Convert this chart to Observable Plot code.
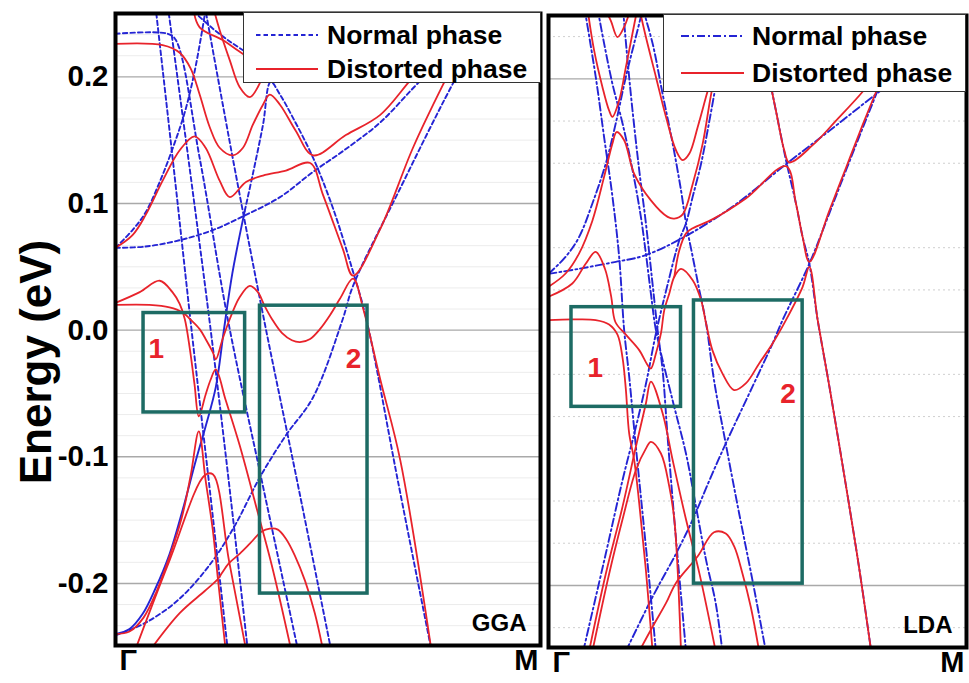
<!DOCTYPE html>
<html><head><meta charset="utf-8">
<script src="https://cdn.jsdelivr.net/npm/d3@7"></script>
<script src="https://cdn.jsdelivr.net/npm/@observablehq/plot@0.6"></script>
<style>
body{margin:0;background:#fff;font-family:"Liberation Sans",Arial,sans-serif;}
#wrap{position:relative;width:969px;height:683px;overflow:hidden;background:#fff;}
.panel{position:absolute;top:0;}
.legend{position:absolute;background:#fff;border:1.5px solid #333;box-sizing:border-box;}
.legend .lt{position:absolute;font-weight:bold;font-size:26.5px;color:#000;line-height:1;white-space:nowrap;transform:translateY(-50%);}
.legend svg{position:absolute;left:0;top:0;}
#ylab{position:absolute;left:36px;top:362px;transform:translate(-50%,-50%) rotate(-90deg);font-weight:bold;font-size:44px;white-space:nowrap;color:#000;line-height:1;}
</style></head>
<body><div id="wrap"><div id="ylab">Energy (eV)</div></div>
<script>
// ---------- data (k along Γ–M, energy in eV) ----------
const kLabels = ["Γ", "M"];
const energyTicks = [-0.2, -0.1, 0.0, 0.1, 0.2];
const ldaSolidTicks = [-0.2, 0.0, 0.2];
const legendLabels = ["Normal phase", "Distorted phase"];
const panelNames = ["GGA", "LDA"];
const boxLabels = ["1", "2"];

// GGA, normal phase (dashed)
const ggaNormal = [
  [[0,-0.241],[0.071,-0.231],[0.151,-0.212],[0.229,-0.182],[0.283,-0.153],[0.340,-0.116],[0.401,-0.083],[0.465,-0.053],[0.535,0.009],[0.559,0.035],[0.670,0.112],[0.771,0.180],[0.858,0.235]],
  [[0,0.065],[0.071,0.066],[0.151,0.071],[0.229,0.079],[0.307,0.091],[0.387,0.105],[0.465,0.125],[0.542,0.143],[0.623,0.164],[0.700,0.191],[0.764,0.213],[0.83,0.24]],
  [[0,0.065],[0.040,0.079],[0.071,0.093],[0.104,0.117],[0.134,0.143],[0.163,0.172],[0.186,0.204],[0.210,0.249],[0.213,0.256]],
  [[0.304,0.094],[0.323,0.123],[0.347,0.162],[0.365,0.196],[0.387,0.186],[0.417,0.168],[0.465,0.136],[0.512,0.096],[0.559,0.046],[0.590,0.009],[0.665,-0.120],[0.743,-0.252]],
  [[0.094,0.256],[0.137,0.128],[0.179,0],[0.222,-0.1265],[0.264,-0.252]],
  [[0.123,0.256],[0.175,0.1265],[0.224,0],[0.269,-0.1265],[0.311,-0.252]],
  [[0,0.234],[0.123,0.234],[0.142,0.229],[0.198,0.136],[0.264,0.009],[0.344,-0.1185],[0.429,-0.252]],
  [[0.210,0.256],[0.278,0.132],[0.349,0.009],[0.427,-0.1185],[0.507,-0.252]],
  [[0.170,0.256],[0.233,0.237],[0.300,0.221],[0.410,0.200]]
];
// GGA, normal phase (solid segment)
const ggaNormalSolid = [
  [[0,-0.240],[0.033,-0.236],[0.064,-0.224],[0.094,-0.204],[0.127,-0.177],[0.158,-0.142],[0.189,-0.103],[0.212,-0.076],[0.236,-0.045],[0.255,0.0],[0.275,0.045],[0.304,0.094]]
];
// GGA, distorted phase
const ggaDistorted = [
  [[0,0.226],[0.111,0.225],[0.151,0.219],[0.177,0.2065],[0.198,0.186],[0.222,0.160],[0.245,0.144],[0.276,0.138],[0.300,0.144],[0.323,0.162],[0.347,0.178],[0.363,0.186],[0.387,0.178],[0.424,0.1575],[0.465,0.138],[0.542,0.154],[0.623,0.170],[0.693,0.197],[0.764,0.224],[0.83,0.255]],
  [[0,0.065],[0.040,0.075],[0.071,0.091],[0.111,0.118],[0.151,0.142],[0.186,0.153],[0.212,0.144],[0.245,0.118],[0.269,0.105],[0.307,0.117],[0.347,0.122],[0.401,0.126],[0.458,0.132],[0.488,0.107],[0.535,0.064],[0.559,0.043],[0.623,0.080],[0.700,0.144],[0.771,0.194],[0.823,0.2275],[0.86,0.255]],
  [[0.229,0.256],[0.245,0.237],[0.269,0.213],[0.292,0.192],[0.316,0.184],[0.335,0.192],[0.363,0.216],[0.387,0.24]],
  [[0.182,0.256],[0.198,0.239],[0.252,0.229],[0.300,0.218],[0.350,0.208]],
  [[0,0.0215],[0.057,0.030],[0.104,0.039],[0.134,0.030],[0.151,0.0207],[0.163,0.0088],[0.175,-0.015],[0.186,-0.043],[0.196,-0.068],[0.212,-0.051],[0.224,-0.039],[0.236,-0.031],[0.259,-0.055],[0.292,-0.0907],[0.330,-0.138],[0.368,-0.186],[0.413,-0.252]],
  [[0,0.0199],[0.080,0.0199],[0.127,0.018],[0.158,0.014],[0.175,0.0088],[0.198,0.0008],[0.212,-0.007],[0.229,-0.0175],[0.236,-0.023],[0.252,-0.007],[0.269,0.0088],[0.292,0.026],[0.316,0.035],[0.335,0.030],[0.351,0.019],[0.368,0.0088],[0.392,-0.0024],[0.415,-0.008],[0.434,-0.0095],[0.458,-0.007],[0.481,0.0008],[0.505,0.012],[0.528,0.0247],[0.559,0.0406],[0.583,0.0167],[0.623,-0.039],[0.670,-0.1026],[0.743,-0.252]],
  [[0,-0.240],[0.033,-0.238],[0.066,-0.227],[0.097,-0.206],[0.127,-0.179],[0.156,-0.148],[0.177,-0.1146],[0.196,-0.080],[0.212,-0.1185],[0.229,-0.158],[0.241,-0.1965],[0.259,-0.252]],
  [[0.047,-0.252],[0.127,-0.182],[0.210,-0.1146],[0.229,-0.1138],[0.267,-0.182],[0.307,-0.252]],
  [[0.083,-0.252],[0.151,-0.2235],[0.210,-0.206],[0.241,-0.1965],[0.250,-0.192],[0.267,-0.184],[0.292,-0.1766],[0.316,-0.1686],[0.344,-0.159],[0.363,-0.1567],[0.382,-0.1575],[0.401,-0.1647],[0.422,-0.178],[0.446,-0.198],[0.469,-0.2235],[0.488,-0.252]]
];
// LDA, normal phase (dash-dot)
const ldaNormal = [
  [[0.083,-0.252],[0.137,-0.175],[0.177,-0.117],[0.209,-0.075],[0.233,-0.041],[0.257,-0.001],[0.283,0.035],[0.313,0.0726],[0.329,0.086],[0.345,0.107],[0.365,0.133],[0.385,0.167],[0.400,0.194],[0.416,0.220]],
  [[0,0.046],[0.041,0.0595],[0.073,0.075],[0.105,0.1016],[0.137,0.133],[0.161,0.165],[0.185,0.2015],[0.205,0.228],[0.221,0.249],[0.226,0.256]],
  [[0,0.046],[0.073,0.050],[0.161,0.0555],[0.225,0.060],[0.313,0.073],[0.440,0.099],[0.568,0.1326],[0.672,0.159],[0.784,0.188],[0.912,0.22]],
  [[0.086,0.256],[0.113,0.2015],[0.133,0.154],[0.153,0.107],[0.169,0.0595],[0.181,0.0016],[0.193,-0.035],[0.209,-0.0905],[0.225,-0.143],[0.241,-0.196],[0.257,-0.252]],
  [[0.117,0.256],[0.133,0.228],[0.153,0.196],[0.177,0.165],[0.201,0.128],[0.221,0.091],[0.233,0.062],[0.245,0.0305],[0.257,0.0016],[0.297,-0.054],[0.329,-0.096],[0.353,-0.138],[0.377,-0.180],[0.400,-0.214],[0.416,-0.252]],
  [[0.178,0.256],[0.189,0.215],[0.201,0.175],[0.217,0.128],[0.233,0.086],[0.247,0.044],[0.261,0.0016],[0.273,-0.030],[0.285,-0.083],[0.301,-0.148],[0.329,-0.252]],
  [[0.225,0.256],[0.249,0.228],[0.273,0.188],[0.297,0.149],[0.317,0.112],[0.329,0.086],[0.345,0.0595],[0.361,0.033],[0.377,0.007],[0.396,-0.038],[0.424,-0.088],[0.456,-0.143],[0.488,-0.196],[0.520,-0.252]],
  [[0.500,0.256],[0.520,0.2147],[0.544,0.175],[0.568,0.136],[0.592,0.1016],[0.608,0.075],[0.624,0.054],[0.644,0.0095],[0.672,-0.043],[0.712,-0.122],[0.744,-0.188],[0.772,-0.252]],
  [[0.185,-0.252],[0.249,-0.209],[0.305,-0.175],[0.345,-0.148],[0.385,-0.117],[0.424,-0.088],[0.488,-0.043],[0.536,-0.009],[0.560,0.0095],[0.624,0.054],[0.672,0.094],[0.712,0.128],[0.752,0.1615],[0.784,0.188],[0.824,0.2226]]
];
// LDA, distorted phase
const ldaDistorted = [
  [[0.133,0.256],[0.149,0.246],[0.165,0.233],[0.181,0.241],[0.197,0.256]],
  [[0.093,0.256],[0.109,0.2226],[0.129,0.1936],[0.145,0.175],[0.153,0.170],[0.169,0.183],[0.185,0.209],[0.201,0.236],[0.213,0.256]],
  [[0,0.0358],[0.041,0.0463],[0.073,0.062],[0.105,0.088],[0.133,0.1226],[0.153,0.149],[0.163,0.158],[0.181,0.1515],[0.205,0.125],[0.245,0.104],[0.285,0.091],[0.301,0.0897],[0.321,0.093],[0.345,0.117],[0.369,0.149],[0.388,0.186],[0.408,0.22],[0.42,0.256]],
  [[0.217,0.256],[0.233,0.233],[0.257,0.2015],[0.281,0.170],[0.305,0.1436],[0.321,0.1358],[0.337,0.141],[0.357,0.162],[0.377,0.186],[0.392,0.204],[0.408,0.228],[0.418,0.256]],
  [[0,0.0279],[0.057,0.0384],[0.089,0.054],[0.113,0.0634],[0.135,0.050],[0.150,0.028],[0.160,0.008],[0.185,-0.002],[0.217,-0.0142],[0.237,-0.026],[0.245,-0.0287],[0.257,-0.0168],[0.269,-0.001],[0.277,0.0174],[0.289,0.0305],[0.301,0.0437],[0.317,0.050],[0.345,0.041],[0.365,0.0253],[0.377,0.0068],[0.392,-0.0142],[0.416,-0.0326],[0.444,-0.0458],[0.472,-0.0405],[0.504,-0.0247],[0.536,-0.009],[0.568,0.0095],[0.608,0.0358],[0.624,0.0516],[0.644,0.0095],[0.672,-0.043],[0.712,-0.122],[0.744,-0.188],[0.772,-0.252]],
  [[0.301,0.0437],[0.313,0.0647],[0.329,0.078],[0.345,0.082],[0.392,0.089],[0.472,0.1055],[0.568,0.131],[0.592,0.1016],[0.608,0.075],[0.624,0.0555],[0.672,0.096],[0.712,0.130],[0.752,0.164],[0.784,0.190],[0.824,0.2226],[0.86,0.25]],
  [[0.500,0.256],[0.520,0.2147],[0.544,0.175],[0.564,0.1436],[0.576,0.134],[0.632,0.1476],[0.688,0.167],[0.752,0.190],[0.792,0.207],[0.840,0.228],[0.88,0.245]],
  [[0,0.0095],[0.057,0.010],[0.113,0.0095],[0.145,0.006],[0.165,-0.002],[0.177,-0.02],[0.185,-0.045],[0.193,-0.08],[0.205,-0.101],[0.217,-0.135],[0.233,-0.188],[0.249,-0.252]],
  [[0.097,-0.252],[0.137,-0.191],[0.177,-0.138],[0.209,-0.0905],[0.233,-0.0563],[0.245,-0.039],[0.273,-0.064],[0.297,-0.101],[0.329,-0.148],[0.361,-0.1905],[0.400,-0.252]],
  [[0.105,-0.252],[0.145,-0.191],[0.177,-0.148],[0.209,-0.109],[0.233,-0.092],[0.245,-0.0866],[0.269,-0.0958],[0.289,-0.122],[0.301,-0.148],[0.309,-0.188],[0.317,-0.252]],
  [[0.217,-0.252],[0.249,-0.2326],[0.281,-0.214],[0.305,-0.198],[0.357,-0.177],[0.396,-0.158],[0.424,-0.159],[0.444,-0.169],[0.464,-0.1905],[0.484,-0.217],[0.504,-0.252]]
];
// highlighted regions [k1, k2, E1, E2] and label anchor [k, E]
const ggaBoxes = [[0.066,0.305,-0.065,0.0135],[0.340,0.593,-0.208,0.0193]];
const ggaBoxLabelAt = [[0.096,-0.015],[0.56,-0.023]];
const ldaBoxes = [[0.055,0.317,-0.059,0.0197],[0.348,0.608,-0.1986,0.025]];
const ldaBoxLabelAt = [[0.112,-0.0287],[0.573,-0.049]];

// ---------- drawing ----------
const BLUE = "#2424d4", RED = "#e8232b", TEAL = "#1d6b64";
const FONT = "Liberation Sans, Arial, Helvetica, sans-serif";
const rows = bands => bands.flatMap((b, i) => b.map(([k, E]) => ({band: i, k, E})));
const boxRows = (boxes, at) => boxes.map((b, i) => ({k1: b[0], k2: b[1], e1: b[2], e2: b[3], lk: at[i][0], le: at[i][1], label: boxLabels[i]}));

function panel({width, mLeft, mRight, mTop, mBottom, domainE, grid, minor, minorDash, minorColor, normal, normalSolid, normalDash, distorted, boxes, name, ticks}) {
  const marks = [
    Plot.ruleY(minor, {y: d => d, stroke: minorColor, strokeWidth: 1, strokeDasharray: minorDash}),
    Plot.ruleY(grid, {y: d => d, stroke: "#a9a9a9", strokeWidth: 1.4}),
    Plot.line(rows(normal), {x: "k", y: "E", z: "band", stroke: BLUE, strokeWidth: 1.9, strokeDasharray: normalDash, curve: "catmull-rom", clip: true})
  ];
  if (normalSolid) marks.push(Plot.line(rows(normalSolid), {x: "k", y: "E", z: "band", stroke: BLUE, strokeWidth: 1.9, curve: "catmull-rom", clip: true}));
  marks.push(
    Plot.line(rows(distorted), {x: "k", y: "E", z: "band", stroke: RED, strokeWidth: 1.8, curve: "catmull-rom", clip: true}),
    Plot.rect(boxes, {x1: "k1", x2: "k2", y1: "e1", y2: "e2", fill: "none", stroke: TEAL, strokeWidth: 3.5}),
    Plot.text(boxes, {x: "lk", y: "le", text: "label", fill: RED, fontSize: 28, fontWeight: "bold", fontFamily: FONT}),
    Plot.text([name], {text: d => d, frameAnchor: "bottom-right", dx: -14, dy: -15, textAnchor: "end", fontSize: 24, fontWeight: "bold", fontFamily: FONT, fill: "#000"}),
    Plot.text([kLabels[0]], {text: d => d, x: 0, frameAnchor: "bottom", dy: 24, dx: 4, textAnchor: "start", fontSize: 29, fontWeight: "bold", fontFamily: FONT, fill: "#000"}),
    Plot.text([kLabels[1]], {text: d => d, x: 1, frameAnchor: "bottom", dy: 24, dx: -2, textAnchor: "end", fontSize: 29, fontWeight: "bold", fontFamily: FONT, fill: "#000"})
  );
  if (ticks) marks.push(Plot.text(ticks, {y: d => d, text: d => d.toFixed(1), frameAnchor: "left", textAnchor: "end", dx: -7, fontSize: 29.5, fontWeight: "bold", fontFamily: FONT, fill: "#000"}));
  marks.push(Plot.frame({stroke: "#000", strokeWidth: 4}));
  return Plot.plot({
    width, height: 683,
    marginLeft: mLeft, marginRight: mRight, marginTop: mTop, marginBottom: mBottom,
    x: {domain: [0, 1], axis: null},
    y: {domain: domainE, axis: null},
    style: {background: "transparent", fontFamily: FONT, overflow: "visible"},
    marks
  });
}

const ggaMinor = d3.range(-14, 16).filter(i => i % 6 !== 0).map(i => i / 60);
const ldaMinor = d3.range(-7, 8).filter(i => i % 3 !== 0).map(i => i / 30);

const left = panel({
  width: 545, mLeft: 115, mRight: 5, mTop: 13, mBottom: 38, domainE: [-0.249, 0.25],
  grid: energyTicks, minor: ggaMinor, minorDash: null, minorColor: "#ececec",
  normal: ggaNormal, normalSolid: ggaNormalSolid, normalDash: "4.5,3",
  distorted: ggaDistorted, boxes: boxRows(ggaBoxes, ggaBoxLabelAt), name: panelNames[0], ticks: energyTicks
});
const right = panel({
  width: 424, mLeft: 3, mRight: 3, mTop: 15, mBottom: 36, domainE: [-0.249, 0.25],
  grid: ldaSolidTicks, minor: ldaMinor, minorDash: "2,3", minorColor: "#cfcfcf",
  normal: ldaNormal, normalSolid: null, normalDash: "8,3,2,3",
  distorted: ldaDistorted, boxes: boxRows(ldaBoxes, ldaBoxLabelAt), name: panelNames[1], ticks: null
});

const wrap = document.getElementById("wrap");
left.classList.add("panel"); left.style.left = "0px";
right.classList.add("panel"); right.style.left = "545px";
wrap.insertBefore(left, wrap.firstChild);
wrap.insertBefore(right, wrap.firstChild.nextSibling);

function legend({left, top, width, height, sx, tx, rowsY, dash}) {
  const d = document.createElement("div");
  d.className = "legend";
  Object.assign(d.style, {left: left + "px", top: top + "px", width: width + "px", height: height + "px"});
  const ns = "http://www.w3.org/2000/svg";
  const svg = document.createElementNS(ns, "svg");
  svg.setAttribute("width", width); svg.setAttribute("height", height);
  [[BLUE, dash], [RED, null]].forEach(([c, da], i) => {
    const l = document.createElementNS(ns, "line");
    l.setAttribute("x1", sx[0]); l.setAttribute("x2", sx[1]);
    l.setAttribute("y1", rowsY[i]); l.setAttribute("y2", rowsY[i]);
    l.setAttribute("stroke", c); l.setAttribute("stroke-width", 2);
    if (da) l.setAttribute("stroke-dasharray", da);
    svg.appendChild(l);
  });
  d.appendChild(svg);
  legendLabels.forEach((t, i) => {
    const s = document.createElement("div");
    s.className = "lt"; s.textContent = t;
    s.style.left = tx + "px"; s.style.top = rowsY[i] + "px";
    d.appendChild(s);
  });
  wrap.appendChild(d);
}
legend({left: 243, top: 12, width: 298, height: 71, sx: [12, 74], tx: 83, rowsY: [22, 56], dash: "4.5,3"});
legend({left: 663, top: 14, width: 303, height: 78, sx: [17, 80], tx: 88, rowsY: [21, 58], dash: "8,3,2,3"});
</script></body></html>
